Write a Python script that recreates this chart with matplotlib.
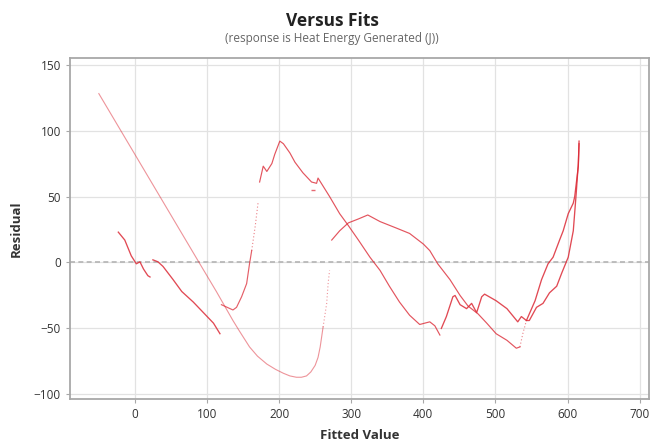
import matplotlib.pyplot as plt
import numpy as np

# residual traces (fitted value, residual)
long_x = [-50, 89, 113, 136, 145, 159, 170, 183, 195, 206, 215, 224, 231, 238, 244, 250, 254, 257, 261]
long_y = [128, 0, -22, -44, -52, -64, -71, -77, -81, -84, -86, -87, -87, -86, -83, -78, -72, -64, -49]
long_tail_x = [261, 266, 268, 270]
long_tail_y = [-49, -31, -16, -6]

hook_x = [120, 132, 136, 141, 148, 155, 159, 162]
hook_y = [-32, -35, -36, -34, -26, -16, -1, 9]
hook_gap_x = [162, 167, 171]
hook_gap_y = [9, 28, 46]
peak_x = [173, 178, 183, 190, 194, 201, 206, 215, 222, 233, 245, 252, 254, 270, 284,
          296, 310, 326, 340, 353, 367, 381, 395, 409, 416, 423]
peak_y = [61, 73, 69, 75, 82, 92, 90, 83, 76, 68, 61, 60, 64, 50, 37,
          28, 17, 4, -6, -18, -30, -40, -47, -45, -48, -55]

branch_x = [273, 284, 296, 310, 323, 340, 363, 381, 400, 409, 420, 437, 451, 462,
            476, 488, 501, 516, 529, 534]
branch_y = [17, 24, 30, 33, 36, 31, 26, 22, 14, 9, -1, -13, -25, -33,
            -39, -46, -54, -59, -65, -64]
branch_gap_x = [534, 538, 543]
branch_gap_y = [-64, -54, -44]
rise_x = [543, 547, 557, 566, 575, 585, 592, 601, 608, 612, 615, 616]
rise_y = [-44, -44, -34, -31, -23, -18, -8, 4, 24, 52, 75, 90]

saw_x = [425, 432, 441, 444, 451, 460, 467, 474, 481, 485, 501, 516, 531, 536, 543,
         555, 564, 573, 580, 589, 594, 601, 608, 610, 615, 616]
saw_y = [-50, -41, -26, -25, -32, -35, -31, -38, -26, -24, -29, -35, -45, -41, -44,
         -29, -13, -1, 4, 17, 24, 37, 45, 50, 73, 92]

left_x = [-23, -14, -5, 2, 7, 12, 18, 21]
left_y = [23, 17, 5, -1, 0.5, -5, -10, -11]
mid_x = [25, 32, 39, 53, 65, 81, 95, 109, 118]
mid_y = [2, 0.5, -3, -13, -22, -30, -38, -46, -54]

stray_x = [247]
stray_y = [55]

xticks = [0, 100, 200, 300, 400, 500, 600, 700]
yticks = [-100, -50, 0, 50, 100, 150]

plt.rcParams['font.family'] = ['Open Sans', 'DejaVu Sans']
red = '#dc2a36'
gray_txt = '#333333'

fig = plt.figure(figsize=(6.64, 4.41), dpi=100)
ax = fig.add_axes([0.1054, 0.0952, 0.872, 0.7733])

ax.plot(long_x, long_y, color=red, lw=0.8, alpha=0.5)
ax.plot(long_tail_x, long_tail_y, color=red, lw=0.8, alpha=0.5, ls=(0, (1, 2)))
ax.plot(hook_x, hook_y, color=red, lw=0.85, alpha=0.75)
ax.plot(hook_gap_x, hook_gap_y, color=red, lw=0.8, alpha=0.6, ls=(0, (1, 2)))
ax.plot(peak_x, peak_y, color=red, lw=0.85, alpha=0.8)
ax.plot(branch_x, branch_y, color=red, lw=0.85, alpha=0.8)
ax.plot(branch_gap_x, branch_gap_y, color=red, lw=0.8, alpha=0.6, ls=(0, (1, 2)))
ax.plot(rise_x, rise_y, color=red, lw=0.95, alpha=0.85)
ax.plot(saw_x, saw_y, color=red, lw=0.95, alpha=0.85)
ax.plot(left_x, left_y, color=red, lw=0.95, alpha=0.85)
ax.plot(mid_x, mid_y, color=red, lw=0.95, alpha=0.85)
ax.plot(stray_x, stray_y, marker='_', color=red, ms=3, alpha=0.7)

ax.axhline(0, color='#b4b4b4', lw=1.2, ls=(0, (3, 2)), zorder=1)

ax.set_xlim(-90, 713)
ax.set_ylim(-103.5, 155)
ax.set_xticks(xticks)
ax.set_yticks(yticks)
ax.grid(True, color='#e2e2e2', lw=0.9)
ax.set_axisbelow(True)
for s in ax.spines.values():
    s.set_color('#a8a8a8')
    s.set_linewidth(1.3)
ax.tick_params(colors='#a8a8a8', labelcolor=gray_txt, labelsize=8.5, length=3)

ax.set_xlabel("Fitted Value", fontsize=9.5, fontweight='bold', color=gray_txt, labelpad=6)
ax.set_ylabel("Residual", fontsize=9.5, fontweight='bold', color=gray_txt, labelpad=8)

fig.text(0.5, 0.952, "Versus Fits", ha='center', va='center', fontsize=12.5,
         fontweight='bold', color='#222222')
fig.text(0.5, 0.912, "(response is Heat Energy Generated (J))", ha='center', va='center',
         fontsize=8.5, color='#666666')

plt.savefig("out.png", dpi=100)
plt.close()
